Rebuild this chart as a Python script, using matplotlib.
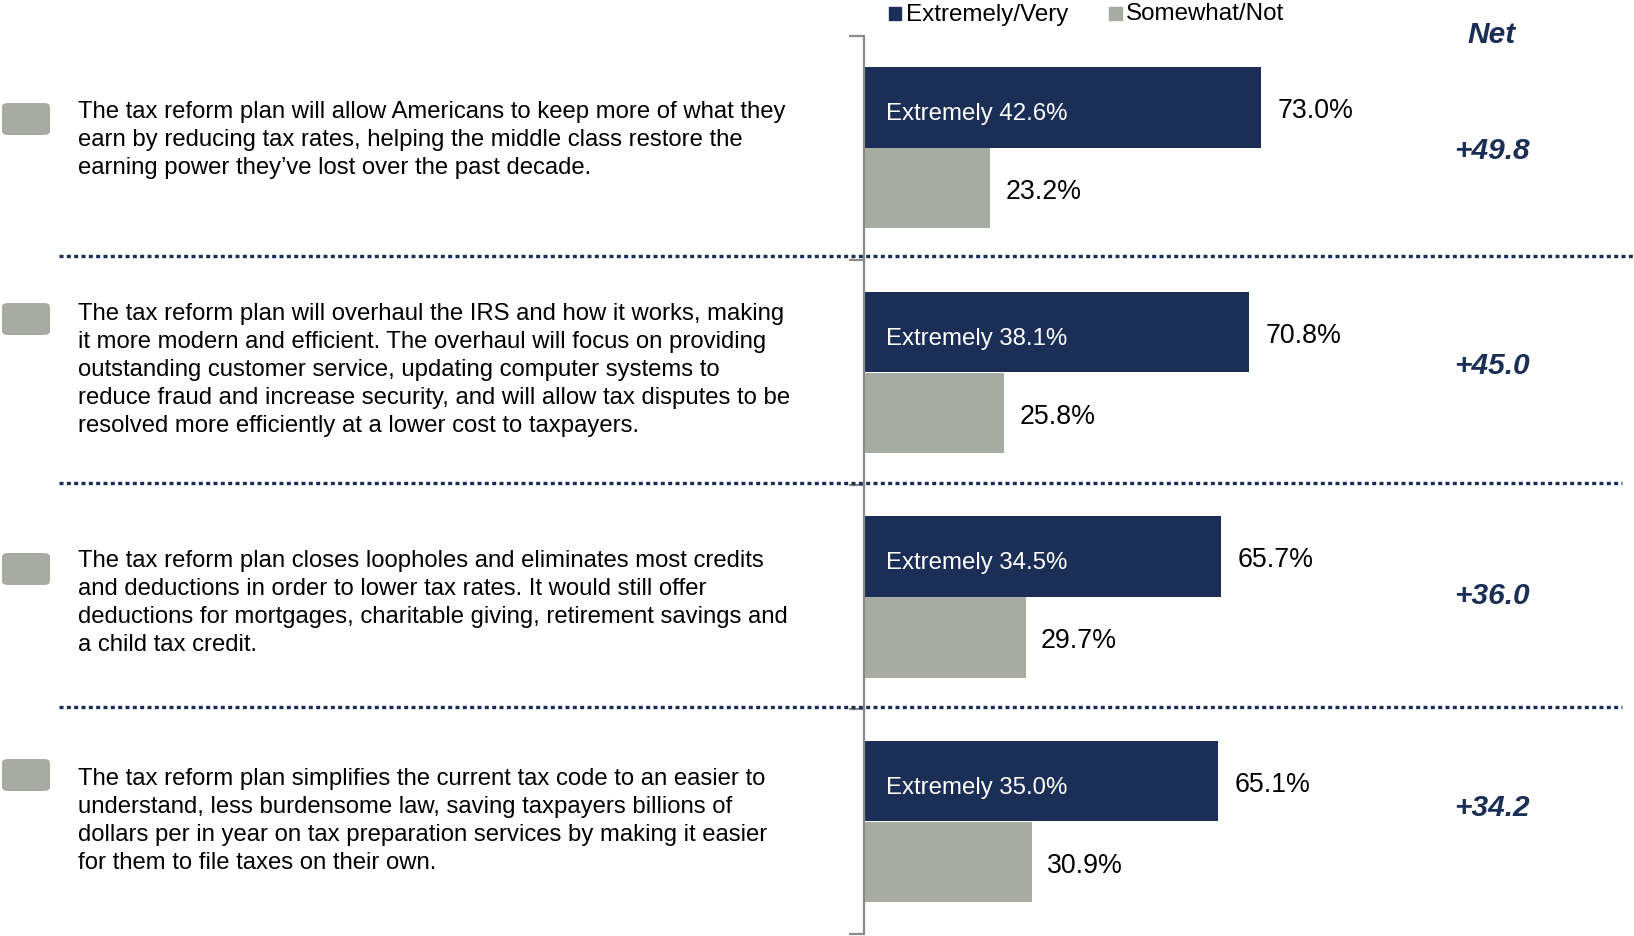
import numpy as np
import matplotlib
matplotlib.use('Agg')
import matplotlib.pyplot as plt
from matplotlib.patches import FancyBboxPatch, Rectangle
from matplotlib.lines import Line2D
import matplotlib.transforms as mtransforms

plt.rcParams['font.family'] = ['Liberation Sans', 'DejaVu Sans']

#%% Data

statements = [
    "The tax reform plan will allow Americans to keep more of what they\n"
    "earn by reducing tax rates, helping the middle class restore the\n"
    "earning power they\u2019ve lost over the past decade.",
    "The tax reform plan will overhaul the IRS and how it works, making\n"
    "it more modern and efficient. The overhaul will focus on providing\n"
    "outstanding customer service, updating computer systems to\n"
    "reduce fraud and increase security, and will allow tax disputes to be\n"
    "resolved more efficiently at a lower cost to taxpayers.",
    "The tax reform plan closes loopholes and eliminates most credits\n"
    "and deductions in order to lower tax rates. It would still offer\n"
    "deductions for mortgages, charitable giving, retirement savings and\n"
    "a child tax credit.",
    "The tax reform plan simplifies the current tax code to an easier to\n"
    "understand, less burdensome law, saving taxpayers billions of\n"
    "dollars per in year on tax preparation services by making it easier\n"
    "for them to file taxes on their own.",
]
extremely_very = [73.0, 70.8, 65.7, 65.1]
somewhat_not = [23.2, 25.8, 29.7, 30.9]
extremely = [42.6, 38.1, 34.5, 35.0]
net = ['+49.8', '+45.0', '+36.0', '+34.2']

navy = '#1a2e56'
grey = '#a6aca1'

W, H = 1634, 937
def fx(x):
    return x / W
def fy(y):
    return 1 - y / H

#%% Figure

fig = plt.figure(figsize=(W / 100, H / 100), dpi=100)
ax = fig.add_axes([fx(864), fy(935), fx(W - 864), (935 - 36.5) / H])

y = np.arange(len(statements))
bh = 0.358
ax.barh(y - 0.18, extremely_very, height=bh, color=navy)
ax.barh(y + 0.18, somewhat_not, height=bh, color=grey)

ax.set_xlim(0, (W - 864) / 5.44)
ax.set_ylim(len(statements) - 0.5, -0.5)

for s in ['top', 'right', 'bottom']:
    ax.spines[s].set_visible(False)
ax.spines['left'].set_color('#8a8a8a')
ax.spines['left'].set_linewidth(1.6)
ax.set_xticks([])
ax.set_yticks(np.arange(-0.5, len(statements), 1.0))
ax.set_yticklabels([])
ax.tick_params(axis='y', length=11, width=1.6, color='#8a8a8a', direction='out')

# bar labels
for i in range(len(statements)):
    ax.annotate('Extremely %.1f%%' % extremely[i], (0, i - 0.18), xytext=(16, -4),
                textcoords='offset points', va='center', ha='left',
                color='white', fontsize=17.3)
    ax.annotate('%.1f%%' % extremely_very[i], (extremely_very[i], i - 0.18),
                xytext=(12, -2), textcoords='offset points', va='center',
                ha='left', fontsize=19.3)
    ax.annotate('%.1f%%' % somewhat_not[i], (somewhat_not[i], i + 0.18),
                xytext=(11, -2), textcoords='offset points', va='center',
                ha='left', fontsize=19.3)

# dotted separators
trans = mtransforms.blended_transform_factory(fig.transFigure, ax.transData)
sep_right = [W, 1622, 1622]
for k, yy in enumerate([0.48, 1.49, 2.49]):
    ln = Line2D([fx(59), fx(sep_right[k])], [yy, yy], transform=trans,
                color=navy, linewidth=2.4, linestyle=(0, (1.2, 1.0)),
                dash_capstyle='butt')
    fig.add_artist(ln)

# statement text and grey boxes
text_y = [140, 370, 603, 821]
box_y = [120, 320, 570, 776]
for i, txt in enumerate(statements):
    fig.text(fx(78), fy(text_y[i]), txt, fontsize=17.2, va='center', ha='left',
             linespacing=1.36)
    bx = FancyBboxPatch((fx(2), fy(box_y[i] + 16)), fx(48), 32 / H,
                        boxstyle='round,pad=0,rounding_size=0.004',
                        transform=fig.transFigure, facecolor=grey,
                        edgecolor='none')
    fig.add_artist(bx)

# net column
fig.text(fx(1492), fy(35), 'Net', fontsize=21.5, fontweight='bold',
         fontstyle='italic', color=navy, ha='center', va='center')
net_y = [151, 366, 596, 808]
for i, n in enumerate(net):
    fig.text(fx(1492), fy(net_y[i]), n, fontsize=21.5, fontweight='bold',
             fontstyle='italic', color=navy, ha='center', va='center')

# legend
fig.add_artist(Rectangle((fx(889), fy(20.5)), fx(12.5), 12.5 / H,
                         transform=fig.transFigure, color=navy))
fig.text(fx(906), fy(14.5), 'Extremely/Very', fontsize=17.4, va='center', ha='left')
fig.add_artist(Rectangle((fx(1109), fy(20.5)), fx(12.5), 12.5 / H,
                         transform=fig.transFigure, color=grey))
fig.text(fx(1126), fy(14.5), 'Somewhat/Not', fontsize=17.4, va='center', ha='left')

fig.savefig('out.png', dpi=100)
